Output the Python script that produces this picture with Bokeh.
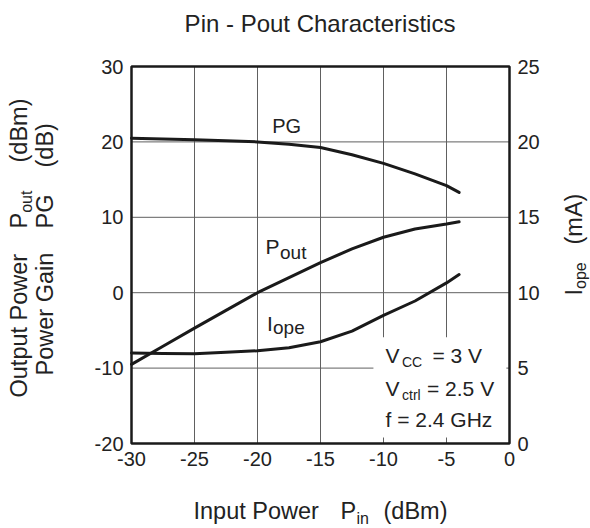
import math
from bokeh.plotting import figure
from bokeh.models import Range1d, LinearAxis, FixedTicker, Label
from bokeh.embed import file_html
from bokeh.resources import INLINE

# ---- data ----
pin = [-30, -27.5, -25, -22.5, -20, -17.5, -15, -12.5, -10, -7.5, -5, -4]
pg = [20.5, 20.4, 20.3, 20.15, 20.0, 19.7, 19.25, 18.3, 17.15, 15.75, 14.2, 13.3]
pout = [-9.5, -7.1, -4.7, -2.35, 0.0, 2.0, 4.0, 5.8, 7.35, 8.45, 9.1, 9.4]
iope = [6.0, 5.97, 5.95, 6.05, 6.15, 6.35, 6.75, 7.45, 8.5, 9.45, 10.65, 11.2]

x_ticks = [-30, -25, -20, -15, -10, -5, 0]
left_ticks = [-20, -10, 0, 10, 20, 30]
right_ticks = [0, 5, 10, 15, 20, 25]

FONT = "Liberation Sans"
INK = "#222222"
W, H = 590, 528
# chart box in canvas pixels
BL, BR, BT, BB = 131, 509, 66, 443

X0, X1 = x_ticks[0], x_ticks[-1]
Y0, Y1 = left_ticks[0], left_ticks[-1]
R0, R1 = right_ticks[0], right_ticks[-1]

# extend ranges so that the chart box sits at the wanted pixels inside a full-canvas frame
xs = (BR - BL) / (X1 - X0)
ys = (BB - BT) / (Y1 - Y0)
rs = (BB - BT) / (R1 - R0)
x_range = Range1d(X0 - BL / xs, X1 + (W - BR) / xs)
y_range = Range1d(Y0 - (H - BB) / ys, Y1 + BT / ys)
r_range = Range1d(R0 - (H - BB) / rs, R1 + BT / rs)

p = figure(width=W, height=H, output_backend="svg", toolbar_location=None,
           x_range=x_range, y_range=y_range, title=None,
           min_border=0, min_border_left=0, min_border_right=0,
           min_border_top=0, min_border_bottom=0)
p.background_fill_color = "white"
p.border_fill_color = "white"
p.outline_line_color = None
p.xgrid.visible = False
p.ygrid.visible = False
p.extra_y_ranges = {"iope": r_range}

right_axis = LinearAxis(y_range_name="iope")
p.add_layout(right_axis, "right")

xa = p.xaxis[0]
ya = p.yaxis[0]
xa.fixed_location = Y0
xa.bounds = (X0, X1)
ya.fixed_location = X0
ya.bounds = (Y0, Y1)
right_axis.fixed_location = X1
right_axis.bounds = (R0, R1)

xa.ticker = FixedTicker(ticks=x_ticks)
ya.ticker = FixedTicker(ticks=left_ticks)
right_axis.ticker = FixedTicker(ticks=right_ticks)
xa.major_label_overrides = {t: str(t) for t in x_ticks}
ya.major_label_overrides = {t: str(t) for t in left_ticks}
right_axis.major_label_overrides = {t: str(t) for t in right_ticks}

for ax in (xa, ya, right_axis):
    ax.axis_line_color = None
    ax.major_tick_line_color = None
    ax.minor_tick_line_color = None
    ax.major_tick_out = 0
    ax.major_tick_in = 0
    ax.major_label_standoff = 8
    ax.major_label_text_font = FONT
    ax.major_label_text_font_size = "20px"
    ax.major_label_text_color = INK

# grid lines, limited to the chart box
p.segment(x0=x_ticks, y0=[Y0] * len(x_ticks), x1=x_ticks, y1=[Y1] * len(x_ticks),
          line_color="#606060", line_width=1)
p.segment(x0=[X0] * len(left_ticks), y0=left_ticks, x1=[X1] * len(left_ticks), y1=left_ticks,
          line_color="#606060", line_width=1)

# white box behind the conditions text (covers the grid)
p.quad(left=[-10.8], right=[-0.25], bottom=[-19.2], top=[-5.9],
       fill_color="white", line_color=None)

p.line(pin, pg, line_color="#1a1a1a", line_width=3, line_join="round", line_cap="round")
p.line(pin, pout, line_color="#1a1a1a", line_width=3, line_join="round", line_cap="round")
p.line(pin, iope, line_color="#1a1a1a", line_width=3, line_join="round", line_cap="round",
       y_range_name="iope")

# chart frame
p.quad(left=[X0], right=[X1], bottom=[Y0], top=[Y1],
       fill_color=None, line_color="#1a1a1a", line_width=2.5)

ROT = math.pi / 2


def lab(text, px, py, size, angle=0.0, align="left"):
    # (px, py): wanted baseline anchor in canvas pixels from the top-left corner
    shift = 0.37 * size
    if angle == 0.0:
        py -= shift
    else:
        px -= shift
    p.add_layout(Label(x=px, y=H - py, x_units="screen", y_units="screen",
                       text=text, text_font=FONT, text_font_size=f"{size}px",
                       text_align=align, text_baseline="alphabetic",
                       angle=angle, text_color=INK))


# title
lab("Pin - Pout Characteristics", 319.5, 32, 24, align="center")

# x axis label
lab("Input Power", 193, 519, 23.5)
lab("P", 340, 519, 23.5)
lab("in", 356, 523.5, 16)
lab("(dBm)", 383, 519, 23.5)

# left axis label (two rotated lines)
lab("Output Power", 27, 397, 23.5, ROT)
lab("P", 27, 228, 23.5, ROT)
lab("out", 31.5, 212.3, 16, ROT)
lab("(dBm)", 27, 162, 23.5, ROT)
lab("Power Gain", 53, 375, 23.5, ROT)
lab("PG", 53, 228, 23.5, ROT)
lab("(dB)", 53, 167, 23.5, ROT)

# right axis label
lab("I", 582, 295, 23.5, ROT)
lab("ope", 586, 288.5, 16, ROT)
lab("(mA)", 582, 244, 23.5, ROT)

# curve labels
lab("PG", 271.7, 132.7, 20)
lab("P", 265, 254, 21)
lab("out", 279.5, 259, 19)
lab("I", 266.5, 330.5, 21)
lab("ope", 272.5, 334.5, 19)

# conditions
lab("V", 385, 363, 21)
lab("CC", 401.5, 366.5, 14)
lab("= 3 V", 432, 363, 21)
lab("V", 385, 396, 21)
lab("ctrl", 401.5, 399.5, 14)
lab("= 2.5 V", 426.5, 396, 21)
lab("f = 2.4 GHz", 385, 427, 21)

open("out.html", "w").write(file_html(p, INLINE))
